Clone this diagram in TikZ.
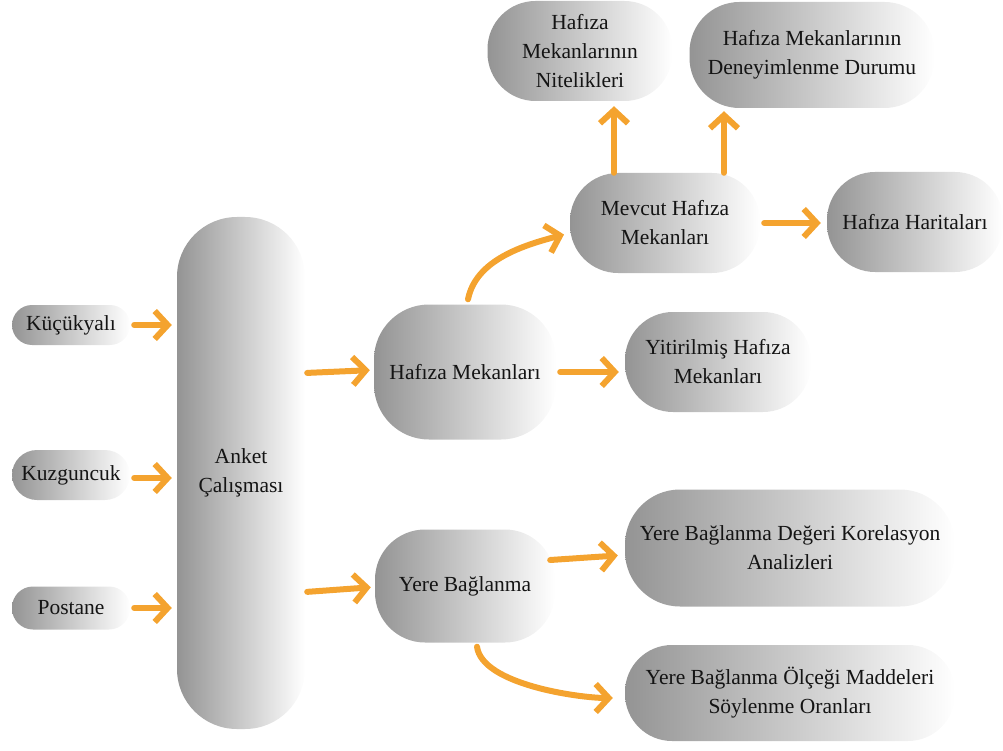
\documentclass[tikz,border=0pt]{standalone}
\usepackage{fontspec}
\setmainfont{Liberation Serif}
\newfontfamily\tnr{Liberation Serif}
\usetikzlibrary{arrows.meta}
\definecolor{arrc}{HTML}{F4A32F}
\definecolor{txt}{HTML}{141414}
\begin{document}
\begin{tikzpicture}[x=1pt,y=-1pt,
  box/.style={rectangle, rounded corners=#1, left color=black!42, right color=white,
    draw=none, inner sep=0pt, align=center, text=txt,
    font=\tnr\fontsize{21.5}{29}\selectfont},
  box/.default=45pt,
  arr/.style={draw=arrc, line width=6pt, line cap=round,
    -{Straight Barb[length=13pt,width=28pt]}}]
\useasboundingbox (0,0) rectangle (1003,751);
% nodes
\node[box=20pt, minimum width=118pt, minimum height=40pt] (kuc) at (71,325) {Küçükyalı};
\node[box=25pt, minimum width=118pt, minimum height=50pt] (kuz) at (71,475) {Kuzguncuk};
\node[box=21pt, minimum width=118pt, minimum height=43pt] (pos) at (71,608) {Postane};
\node[box=60pt, minimum width=128pt, minimum height=512pt] (ank) at (241,473) {Anket\\Çalışması};
\node[box=55pt, minimum width=182pt, minimum height=135pt] (hm) at (465,372) {Hafıza Mekanları};
\node[box=50pt, minimum width=180pt, minimum height=113pt] (yb) at (465,586) {Yere Bağlanma};
\node[box=55pt, minimum width=330pt, minimum height=117pt] (kor) at (790,548) {Yere Bağlanma Değeri Korelasyon\\Analizleri};
\node[box=47pt, minimum width=330pt, minimum height=96pt] (olc) at (790,693) {Yere Bağlanma Ölçeği Maddeleri\\Söylenme Oranları};
\node[box=48pt, minimum width=186pt, minimum height=100pt] (yit) at (718,362) {Yitirilmiş Hafıza\\Mekanları};
\node[box=48pt, minimum width=190pt, minimum height=100pt] (mev) at (665,223) {Mevcut Hafıza\\Mekanları};
\node[box=48pt, minimum width=176pt, minimum height=100pt] (har) at (915,222) {Hafıza Haritaları};
\node[box=48pt, minimum width=185pt, minimum height=100pt] (nit) at (580,51) {Hafıza\\Mekanlarının\\Nitelikleri};
\node[box=50pt, minimum width=245pt, minimum height=106pt] (den) at (812,55) {Hafıza Mekanlarının\\Deneyimlenme Durumu};
% connectors
\draw[arr, shorten <=4pt, shorten >=5pt] (kuc.east) -- (ank.west |- kuc.east);
\draw[arr, shorten <=4pt, shorten >=5pt] ([yshift=-3pt]kuz.east) -- (ank.west |- 0,478);
\draw[arr, shorten <=4pt, shorten >=5pt] (pos.east) -- (ank.west |- pos.east);
\draw[arr, shorten <=2pt, shorten >=4pt] (ank.east |- 0,373) -- (hm.west |- 0,370);
\draw[arr, shorten <=2pt, shorten >=4pt] (ank.east |- 0,592) -- (yb.west |- 0,587);
\draw[arr, shorten >=6pt] ([xshift=3pt,yshift=5pt]hm.north) .. controls +(8,-40) and +(-45,12) .. ([yshift=-10pt]mev.west);
\draw[arr, shorten <=4pt, shorten >=6pt] (hm.east) -- (yit.west |- hm.east);
\draw[arr, shorten >=5pt] ([xshift=-51pt]mev.north) -- ([xshift=-51pt]mev.north |- nit.south);
\draw[arr, shorten >=3pt] ([xshift=59pt]mev.north) -- ([xshift=59pt]mev.north |- den.south);
\draw[arr, shorten <=4pt, shorten >=6pt] (mev.east) -- (har.west |- mev.east);
\draw[arr, shorten >=7pt] ([xshift=-5pt,yshift=26pt]yb.east) -- ([yshift=-7pt]kor.west);
\draw[arr, shorten >=12pt] ([xshift=12pt,yshift=-4pt]yb.south) .. controls +(5,38) and +(-45,0) .. ([yshift=-5pt]olc.west);
\end{tikzpicture}
\end{document}
